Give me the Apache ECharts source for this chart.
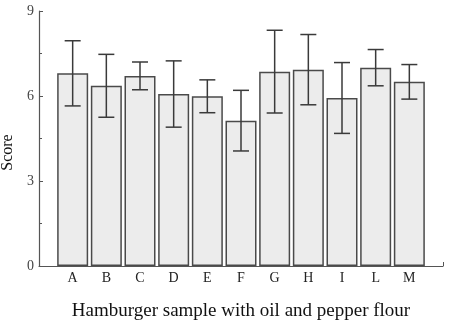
<!DOCTYPE html>
<html>
<head>
<meta charset="utf-8">
<script src="https://cdn.jsdelivr.net/npm/echarts@6/dist/echarts.min.js"></script>
<style>
html, body { margin: 0; padding: 0; background: #fff; }
#chart { width: 456px; height: 328px; }
</style>
</head>
<body>
<div id="chart"></div>
<script>
var categories = ['A', 'B', 'C', 'D', 'E', 'F', 'G', 'H', 'I', 'L', 'M'];
var means = [6.80, 6.36, 6.71, 6.07, 5.99, 5.13, 6.86, 6.93, 5.93, 7.00, 6.50];
var errors = [1.15, 1.11, 0.49, 1.17, 0.58, 1.07, 1.46, 1.24, 1.25, 0.64, 0.61];
var yTicks = [0, 3, 6, 9];

// pad an empty slot on each side so the axis runs past the bars
var xData = [''].concat(categories).concat(['']);
var barData = ['-'].concat(means).concat(['-']);
var errData = [];
for (var i = 0; i < means.length; i++) {
    errData.push([i + 1, means[i] - errors[i], means[i] + errors[i]]);
}

var serif = 'Liberation Serif';

option = {
    animation: false,
    grid: {
        left: 39,
        right: 13,
        top: 11,
        bottom: 62,
        outerBoundsMode: 'none',
        containLabel: false
    },
    xAxis: {
        type: 'category',
        data: xData,
        boundaryGap: false,
        name: 'Hamburger sample with oil and pepper flour',
        nameLocation: 'middle',
        nameGap: 36,
        nameTextStyle: {
            fontFamily: serif,
            fontSize: 19,
            color: '#111'
        },
        axisLine: {
            lineStyle: { color: '#555', width: 1.2 }
        },
        axisTick: {
            inside: true,
            length: 4,
            interval: function (index) { return index === xData.length - 1; },
            lineStyle: { color: '#555' }
        },
        axisLabel: {
            interval: 0,
            margin: 5,
            fontFamily: serif,
            fontSize: 14,
            color: '#222'
        },
        splitLine: { show: false }
    },
    yAxis: {
        type: 'value',
        min: yTicks[0],
        max: yTicks[yTicks.length - 1],
        interval: 3,
        name: 'Score',
        nameLocation: 'middle',
        nameGap: 21,
        nameTextStyle: {
            fontFamily: serif,
            fontSize: 16,
            color: '#111',
            padding: [0, 0, 0, -28]
        },
        axisLine: {
            show: true,
            lineStyle: { color: '#555', width: 1.2 }
        },
        axisTick: {
            show: true,
            inside: true,
            length: 4,
            lineStyle: { color: '#555' }
        },
        minorTick: {
            show: true,
            splitNumber: 2,
            length: 3,
            lineStyle: { color: '#555' }
        },
        axisLabel: {
            margin: 5,
            fontFamily: serif,
            fontSize: 14,
            color: '#444'
        },
        splitLine: { show: false }
    },
    series: [
        {
            type: 'bar',
            data: barData,
            barWidth: 31,
            itemStyle: {
                color: '#ececec',
                borderColor: '#4a4a4a',
                borderWidth: 1.5
            }
        },
        {
            type: 'custom',
            data: errData,
            z: 10,
            renderItem: function (params, api) {
                var x = api.value(0);
                var lo = api.coord([x, api.value(1)]);
                var hi = api.coord([x, api.value(2)]);
                var half = 8;
                var style = { stroke: '#3a3a3a', lineWidth: 1.5 };
                return {
                    type: 'group',
                    children: [
                        { type: 'line', shape: { x1: lo[0], y1: lo[1], x2: hi[0], y2: hi[1] }, style: style },
                        { type: 'line', shape: { x1: hi[0] - half, y1: hi[1], x2: hi[0] + half, y2: hi[1] }, style: style },
                        { type: 'line', shape: { x1: lo[0] - half, y1: lo[1], x2: lo[0] + half, y2: lo[1] }, style: style }
                    ]
                };
            }
        }
    ]
};

var chart = echarts.init(document.getElementById('chart'));
chart.setOption(option);
</script>
</body>
</html>
